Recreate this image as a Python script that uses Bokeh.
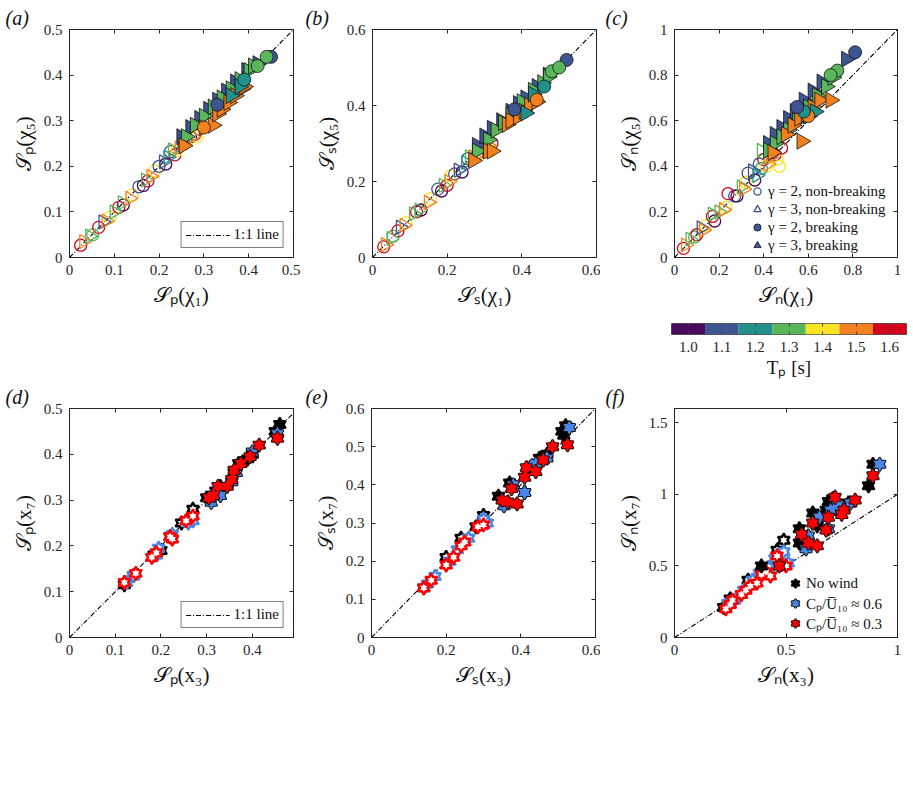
import numpy as np
import pandas as pd
from bokeh.plotting import figure
from bokeh.layouts import column, row
from bokeh.models import (FixedTicker, CustomJSTickFormatter, LinearAxis, Legend, Title,
                          LegendItem, Range1d, ColumnDataSource)
from bokeh.transform import linear_cmap
from bokeh.embed import file_html
from bokeh.resources import INLINE

# ---------------- data: top row (a)-(c) ----------------
TP = [1.6, 1.5, 1.3, 1.3, 1.6, 1.1, 1.5, 1.4, 1.3, 1.6, 1.3, 1.0, 1.5, 1.4, 1.1, 1.0, 1.3, 1.6,
      1.5, 1.4, 1.1, 1.1, 1.0, 1.2, 1.1, 1.3, 1.6, 1.4, 1.5, 1.6, 1.4, 1.0, 1.5, 1.6, 1.4, 1.2,
      1.1, 1.1, 1.1, 1.1, 1.1, 1.1, 1.1, 1.1, 1.1,
      1.3, 1.3, 1.3, 1.3, 1.3, 1.3, 1.3, 1.3, 1.3,
      1.5, 1.5, 1.5, 1.5, 1.5, 1.5, 1.5, 1.5, 1.5,
      1.2, 1.2, 1.1, 1.3, 1.3, 1.5, 1.2, 1.1]
GAMMA = [2, 3, 3, 2, 2, 3, 3, 2, 3, 2, 3, 2, 3, 2, 2, 2, 3, 2,
         3, 2, 2, 3, 2, 3, 2, 3, 2, 2, 3, 2, 2, 2, 3, 2, 2, 2,
         3, 3, 3, 3, 3, 3, 3, 3, 3,
         3, 3, 3, 3, 3, 3, 3, 3, 3,
         3, 3, 3, 3, 3, 3, 3, 3, 3,
         3, 3, 2, 2, 2, 2, 2, 2]
BREAKING = [0] * 36 + [1] * 35
SP_CHI1 = [.025, .032, .045, .052, .065, .075, .082, .090, .100, .110, .118, .120, .135, .140, .155, .165, .170, .175,
           .182, .190, .200, .210, .215, .220, .225, .230, .235, .240, .245, .255, .265, .270, .275, .280, .285, .260,
           .250, .270, .290, .310, .330, .350, .370, .395, .420,
           .260, .280, .300, .320, .340, .360, .380, .400, .410,
           .255, .300, .320, .330, .340, .355, .370, .385, .390,
           .360, .380, .450, .420, .440, .300, .390, .330]
SP_CHI5 = [.027, .035, .047, .050, .066, .078, .080, .088, .100, .110, .120, .115, .130, .137, .155, .158, .170, .168,
           .178, .190, .200, .210, .205, .220, .232, .236, .225, .235, .240, .250, .258, .265, .265, .270, .265, .260,
           .265, .285, .305, .325, .345, .365, .385, .410, .425,
           .265, .290, .310, .330, .350, .370, .390, .410, .420,
           .245, .285, .290, .315, .325, .340, .355, .370, .375,
           .355, .375, .440, .420, .440, .285, .390, .335]
SS_CHI1 = [.030, .035, .050, .055, .068, .075, .085, .090, .110, .118, .125, .130, .150, .155, .175, .185, .190, .200,
           .205, .210, .220, .230, .240, .250, .255, .260, .280, .290, .270, .300, .310, .300, .310, .320, .315, .290,
           .280, .300, .320, .345, .370, .390, .410, .440, .470,
           .280, .310, .330, .350, .370, .400, .430, .455, .470,
           .270, .310, .320, .360, .370, .390, .405, .420, .440,
           .410, .430, .520, .480, .500, .440, .460, .380]
SS_CHI5 = [.028, .034, .050, .056, .070, .080, .085, .092, .115, .120, .125, .125, .145, .155, .180, .175, .190, .190,
           .200, .215, .220, .230, .225, .250, .260, .265, .270, .275, .265, .290, .290, .295, .295, .300, .280, .290,
           .295, .320, .340, .360, .385, .405, .420, .450, .480,
           .280, .310, .335, .355, .375, .410, .440, .460, .475,
           .255, .280, .280, .350, .360, .370, .385, .400, .410,
           .380, .430, .520, .490, .500, .415, .450, .390]
SN_CHI1 = [.040, .050, .070, .090, .100, .120, .130, .140, .170, .170, .200, .180, .220, .230, .270, .280, .300, .240,
           .310, .320, .330, .350, .360, .370, .380, .390, .400, .410, .420, .450, .460, .440, .430, .480, .470, .390,
           .420, .450, .480, .510, .540, .580, .620, .660, .770,
           .420, .450, .480, .510, .550, .600, .640, .680, .710,
           .440, .570, .500, .530, .560, .590, .620, .650, .700,
           .600, .630, .810, .730, .700, .600, .580, .550]
SN_CHI5 = [.040, .055, .080, .090, .100, .130, .120, .140, .190, .180, .200, .160, .210, .220, .270, .270, .310, .280,
           .300, .330, .370, .380, .340, .360, .410, .470, .430, .400, .410, .450, .430, .460, .440, .480, .400, .390,
           .500, .540, .570, .610, .640, .690, .730, .770, .870,
           .470, .500, .530, .560, .600, .660, .710, .750, .790,
           .460, .510, .540, .580, .610, .630, .660, .690, .690,
           .620, .640, .900, .820, .800, .620, .640, .660]

TP_LEVELS = [1.0, 1.1, 1.2, 1.3, 1.4, 1.5, 1.6]
PALETTE = ["#4a0a5c", "#3d5591", "#22918c", "#5bb65b", "#fbe423", "#f2801f", "#d2011d"]

# ---------------- data: bottom row (d)-(f) ----------------
# wind: 0 = no wind, 1 = Cp/U10 ~ 0.6, 2 = Cp/U10 ~ 0.3 ; brk: 0 open, 1 filled
D_X = [0.12, 0.14, 0.185, 0.2, 0.22, 0.245, 0.27, 0.3, 0.32, 0.33, 0.36, 0.37, 0.39, 0.4, 0.45, 0.46,
       0.125, 0.14, 0.19, 0.195, 0.225, 0.26, 0.27, 0.31, 0.33, 0.355, 0.365, 0.4, 0.455,
       0.12, 0.145, 0.18, 0.19, 0.22, 0.225, 0.255, 0.27, 0.305, 0.315, 0.325, 0.345, 0.355, 0.36, 0.375, 0.395, 0.415, 0.455]
D_Y = [0.115, 0.135, 0.18, 0.19, 0.22, 0.25, 0.28, 0.305, 0.32, 0.33, 0.36, 0.38, 0.39, 0.4, 0.45, 0.465,
       0.12, 0.135, 0.18, 0.195, 0.225, 0.25, 0.255, 0.295, 0.31, 0.34, 0.36, 0.405, 0.445,
       0.12, 0.14, 0.175, 0.185, 0.22, 0.215, 0.255, 0.265, 0.305, 0.31, 0.33, 0.33, 0.345, 0.365, 0.38, 0.395, 0.42, 0.435]
D_W = [0] * 16 + [1] * 13 + [2] * 18
D_B = [0] * 7 + [1] * 9 + [0] * 7 + [1] * 6 + [0] * 8 + [1] * 10

E_X = [0.14, 0.2, 0.24, 0.28, 0.3, 0.34, 0.37, 0.41, 0.42, 0.45, 0.47, 0.51, 0.515, 0.52,
       0.15, 0.17, 0.21, 0.23, 0.26, 0.3, 0.31, 0.355, 0.38, 0.41, 0.43, 0.44, 0.47, 0.53,
       0.14, 0.16, 0.2, 0.22, 0.24, 0.25, 0.285, 0.3, 0.35, 0.365, 0.375, 0.39, 0.41, 0.415, 0.44, 0.46, 0.485, 0.525]
E_Y = [0.13, 0.21, 0.26, 0.29, 0.32, 0.37, 0.405, 0.38, 0.44, 0.47, 0.48, 0.54, 0.53, 0.555,
       0.14, 0.16, 0.2, 0.23, 0.26, 0.31, 0.3, 0.345, 0.4, 0.38, 0.45, 0.455, 0.47, 0.55,
       0.13, 0.15, 0.19, 0.21, 0.24, 0.25, 0.29, 0.295, 0.36, 0.355, 0.39, 0.35, 0.42, 0.445, 0.435, 0.465, 0.5, 0.505]
E_W = [0] * 14 + [1] * 14 + [2] * 18
E_B = [0] * 5 + [1] * 9 + [0] * 7 + [1] * 7 + [0] * 8 + [1] * 10

F_X = [0.22, 0.25, 0.33, 0.46, 0.49, 0.39, 0.56, 0.56, 0.62, 0.64, 0.68, 0.69, 0.71, 0.72, 0.75, 0.78, 0.87, 0.89,
       0.24, 0.27, 0.31, 0.35, 0.38, 0.42, 0.45, 0.49, 0.51, 0.59, 0.6, 0.65, 0.69, 0.7, 0.73, 0.76, 0.79, 0.92,
       0.23, 0.25, 0.26, 0.3, 0.32, 0.34, 0.37, 0.39, 0.41, 0.43, 0.46, 0.48, 0.5,
       0.47, 0.57, 0.6, 0.62, 0.64, 0.68, 0.69, 0.72, 0.75, 0.76, 0.81, 0.89]
F_Y = [0.21, 0.27, 0.4, 0.61, 0.68, 0.5, 0.66, 0.76, 0.87, 0.78, 0.89, 0.95, 0.97, 0.9, 0.92, 0.94, 1.06, 1.21,
       0.24, 0.26, 0.33, 0.4, 0.45, 0.49, 0.55, 0.6, 0.52, 0.62, 0.71, 0.84, 0.76, 0.89, 0.93, 0.9, 0.94, 1.21,
       0.2, 0.23, 0.26, 0.3, 0.33, 0.36, 0.38, 0.44, 0.46, 0.43, 0.57, 0.51, 0.5,
       0.5, 0.72, 0.66, 0.8, 0.64, 0.75, 0.84, 0.98, 0.86, 0.89, 0.96, 1.13]
F_W = [0] * 18 + [1] * 18 + [2] * 25
F_B = [0] * 5 + [1] * 13 + [0] * 9 + [1] * 9 + [0] * 13 + [1] * 12

WIND_COLORS = ["#000000", "#4a86e8", "#ff0000"]
WIND_LABELS = ["No wind", "C\u209a/U\u0305\u2081\u2080 \u2248 0.6", "C\u209a/U\u0305\u2081\u2080 \u2248 0.3"]

# axis limits / ticks
A_LIM, B_LIM, C_LIM = [0, 0.5], [0, 0.6], [0, 1.0]
D_XLIM, D_YLIM = [0, 0.49], [0, 0.5]
E_LIM = [0, 0.6]
F_XLIM, F_YLIM = [0, 1.0], [0, 1.6]

FONT = "Liberation Serif"
AX = "#262626"
TXT = "#111111"


def style_axis(ax, hidden=False):
    ax.axis_line_color = AX
    ax.axis_line_width = 1
    ax.major_tick_line_color = AX
    ax.major_tick_in = 4
    ax.major_tick_out = 0
    ax.minor_tick_line_color = None
    ax.major_label_text_font = FONT
    ax.major_label_text_color = AX
    ax.axis_label_text_font = FONT
    ax.axis_label_text_font_style = "normal"
    ax.axis_label_text_font_size = "21px"
    ax.axis_label_text_color = TXT
    if hidden:
        ax.major_label_text_font_size = "0px"
        ax.major_label_standoff = 0
    else:
        ax.major_label_text_font_size = "15px"
        ax.major_label_standoff = 7
        ax.axis_label_standoff = 5


def make_fig(xlim, ylim, xticks, yticks, xlabel, ylabel, left, right, top, bottom, fw, fh, tag):
    p = figure(frame_width=fw, frame_height=fh, x_range=Range1d(*xlim), y_range=Range1d(*ylim),
               output_backend="svg", toolbar_location=None,
               min_border_left=left, min_border_right=right, min_border_top=top, min_border_bottom=bottom)
    p.title = Title(text=tag, align="left", offset=-(left - 5), standoff=1,
                    text_font=FONT, text_font_size="20px", text_font_style="italic",
                    text_color=TXT)
    p.grid.visible = False
    p.outline_line_color = AX
    p.background_fill_color = "white"
    p.border_fill_color = "white"
    fmt = CustomJSTickFormatter(code="return String(tick)")
    p.xaxis.ticker = FixedTicker(ticks=xticks)
    p.yaxis.ticker = FixedTicker(ticks=yticks)
    p.xaxis.formatter = fmt
    p.yaxis.formatter = fmt
    p.xaxis.axis_label = xlabel
    p.yaxis.axis_label = ylabel
    style_axis(p.xaxis[0])
    style_axis(p.yaxis[0])
    for loc, ticks in (("above", xticks), ("right", yticks)):
        ax = LinearAxis(ticker=FixedTicker(ticks=ticks), formatter=CustomJSTickFormatter(code="return ''"))
        style_axis(ax, hidden=True)
        p.add_layout(ax, loc)
    return p


def one_to_one(p, lim, with_legend):
    r = p.line(x=lim, y=lim, line_color="black", line_width=1.1, line_dash="5 2 1 2")
    if with_legend:
        lg = Legend(items=[LegendItem(label="1:1 line", renderers=[r])], location="bottom_right",
                    border_line_color="black", border_line_width=1, glyph_width=44, glyph_height=16,
                    label_text_font=FONT, label_text_font_size="15px", label_text_color=TXT,
                    margin=9, padding=4, label_standoff=4,
                    background_fill_color="white", background_fill_alpha=1)
        p.add_layout(lg)


cases = pd.DataFrame(dict(tp=TP, gamma=GAMMA, brk=BREAKING, sp1=SP_CHI1, sp5=SP_CHI5,
                          ss1=SS_CHI1, ss5=SS_CHI5, sn1=SN_CHI1, sn5=SN_CHI5))
cmap = linear_cmap("tp", PALETTE, 0.95, 1.65)


def draw_top(p, xcol, ycol):
    for brk, gam in ((0, 2), (0, 3), (1, 3), (1, 2)):
        src = ColumnDataSource(cases[(cases.brk == brk) & (cases.gamma == gam)])
        if gam == 2:
            kw = dict(marker="circle", size=12 if brk == 0 else 13)
        else:
            kw = dict(marker="triangle", angle=-np.pi / 2, size=14 if brk == 0 else 16)
        if brk == 0:
            p.scatter(xcol, ycol, source=src, fill_color=None, line_color=cmap, line_width=1.3, **kw)
        else:
            p.scatter(xcol, ycol, source=src, fill_color=cmap, line_color=TXT, line_width=0.8, **kw)


def hexagram(p, src, edge, fill, open_=False, size=12):
    rs = []
    for mk in ("triangle", "inverted_triangle"):
        rs.append(p.scatter("x", "y", source=src, marker=mk, size=size, fill_color=edge,
                            line_color=edge, line_width=2))
    for mk in ("triangle", "inverted_triangle"):
        rs.append(p.scatter("x", "y", source=src, marker=mk, size=7 if open_ else size,
                            fill_color=fill, line_color=None))
    return rs


def draw_bottom(p, xs, ys, ws, bs):
    df = pd.DataFrame(dict(x=xs, y=ys, w=ws, b=bs))
    for brk in (0, 1):
        for w in (0, 1, 2):
            sub = ColumnDataSource(df[(df.w == w) & (df.b == brk)])
            c = WIND_COLORS[w]
            if brk:
                hexagram(p, sub, TXT, c)
            else:
                hexagram(p, sub, c, "white", open_=True)


def nan_src():
    return ColumnDataSource(dict(x=[np.nan], y=[np.nan]))


S = "\U0001D4AE"
# ---------------- row 1 ----------------
pa = make_fig(A_LIM, A_LIM, [0, 0.1, 0.2, 0.3, 0.4, 0.5], [0, 0.1, 0.2, 0.3, 0.4, 0.5],
              S + "\u209a(\u03c7\u2081)", S + "\u209a(\u03c7\u2085)", 69, 7, 29, 61, 224, 228, "(a)")
one_to_one(pa, A_LIM, True)
draw_top(pa, "sp1", "sp5")

pb = make_fig(B_LIM, B_LIM, [0, 0.2, 0.4, 0.6], [0, 0.2, 0.4, 0.6],
              S + "\u209b(\u03c7\u2081)", S + "\u209b(\u03c7\u2085)", 72, 4, 29, 61, 224, 228, "(b)")
one_to_one(pb, B_LIM, False)
draw_top(pb, "ss1", "ss5")

pc = make_fig(C_LIM, C_LIM, [0, 0.2, 0.4, 0.6, 0.8, 1], [0, 0.2, 0.4, 0.6, 0.8, 1],
              S + "\u2099(\u03c7\u2081)", S + "\u2099(\u03c7\u2085)", 74, 16, 29, 61, 223, 228, "(c)")
one_to_one(pc, C_LIM, False)
draw_top(pc, "sn1", "sn5")

LEG_BLUE = PALETTE[1]
l1 = pc.scatter("x", "y", source=nan_src(), marker="circle", fill_color=None, line_color=LEG_BLUE, line_width=1.3)
l2 = pc.scatter("x", "y", source=nan_src(), marker="triangle", angle=-np.pi / 2, fill_color=None,
                line_color=LEG_BLUE, line_width=1.3)
l3 = pc.scatter("x", "y", source=nan_src(), marker="circle", fill_color=LEG_BLUE, line_color=TXT, line_width=0.8)
l4 = pc.scatter("x", "y", source=nan_src(), marker="triangle", angle=-np.pi / 2, fill_color=LEG_BLUE,
                line_color=TXT, line_width=0.8)
legc = Legend(items=[LegendItem(label="\u03b3 = 2, non-breaking", renderers=[l1]),
                     LegendItem(label="\u03b3 = 3, non-breaking", renderers=[l2]),
                     LegendItem(label="\u03b3 = 2, breaking", renderers=[l3]),
                     LegendItem(label="\u03b3 = 3, breaking", renderers=[l4])],
              location=(72, 3), border_line_color=None, background_fill_alpha=0,
              glyph_width=22, glyph_height=18, label_height=18, spacing=0, padding=0, margin=0,
              label_standoff=0, label_text_font=FONT, label_text_font_size="15px",
              label_text_color=TXT)
pc.add_layout(legc)

# ---------------- colorbar ----------------
cb = figure(frame_width=235, frame_height=11, x_range=Range1d(0.95, 1.65), y_range=Range1d(0, 1),
            output_backend="svg", toolbar_location=None, y_axis_location=None,
            min_border_left=671, min_border_right=7, min_border_top=5, min_border_bottom=46)
cb.grid.visible = False
cb.outline_line_color = "#555555"
cb.vbar(x="tp", top=1, bottom=0, width=0.1, source=ColumnDataSource(dict(tp=TP_LEVELS)),
        fill_color=cmap, line_color=None)
cb.xaxis.ticker = FixedTicker(ticks=TP_LEVELS)
cb.xaxis.formatter = CustomJSTickFormatter(code="return tick.toFixed(1)")
cb.xaxis.axis_label = "T\u209a [s]"
style_axis(cb.xaxis[0])
cb.xaxis.major_tick_in = 3
cb.xaxis.major_tick_line_color = "#444444"
cb.xaxis.axis_line_color = None
cb.xaxis.axis_label_text_font_size = "19px"
cb.xaxis.axis_label_standoff = 2
cbt = LinearAxis(ticker=FixedTicker(ticks=TP_LEVELS), formatter=CustomJSTickFormatter(code="return ''"))
style_axis(cbt, hidden=True)
cbt.major_tick_in = 3
cbt.major_tick_line_color = "#444444"
cbt.axis_line_color = None
cb.add_layout(cbt, "above")

# ---------------- row 2 ----------------
pd_ = make_fig(D_XLIM, D_YLIM, [0, 0.1, 0.2, 0.3, 0.4], [0, 0.1, 0.2, 0.3, 0.4, 0.5],
               S + "\u209a(x\u2083)", S + "\u209a(x\u2087)", 69, 7, 28, 60, 224, 229, "(d)")
one_to_one(pd_, D_XLIM, True)
draw_bottom(pd_, D_X, D_Y, D_W, D_B)

pe = make_fig(E_LIM, E_LIM, [0, 0.2, 0.4, 0.6], [0, 0.1, 0.2, 0.3, 0.4, 0.5, 0.6],
              S + "\u209b(x\u2083)", S + "\u209b(x\u2087)", 71, 5, 28, 60, 224, 229, "(e)")
one_to_one(pe, E_LIM, False)
draw_bottom(pe, E_X, E_Y, E_W, E_B)

pf = make_fig(F_XLIM, F_YLIM, [0, 0.5, 1], [0, 0.5, 1, 1.5],
              S + "\u2099(x\u2083)", S + "\u2099(x\u2087)", 74, 16, 28, 60, 223, 229, "(f)")
one_to_one(pf, F_XLIM, False)
draw_bottom(pf, F_X, F_Y, F_W, F_B)

items = []
for w in (0, 1, 2):
    rs = hexagram(pf, nan_src(), TXT, WIND_COLORS[w])
    items.append(LegendItem(label=WIND_LABELS[w], renderers=rs))
legf = Legend(items=items, location=(110, 4), border_line_color=None, background_fill_alpha=0,
              glyph_width=22, glyph_height=20, label_height=20, spacing=0, padding=0, margin=0,
              label_standoff=0, label_text_font=FONT, label_text_font_size="15px",
              label_text_color=TXT)
pf.add_layout(legf)

layout = column(row(pa, pb, pc), cb, row(pd_, pe, pf))
open("out.html", "w").write(file_html(layout, INLINE))
